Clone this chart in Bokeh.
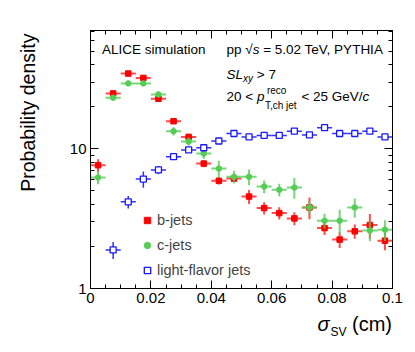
import math
from bokeh.plotting import figure
from bokeh.models import (FixedTicker, CustomJSTickFormatter, LinearAxis, LogAxis,
                          Label, Legend, LegendItem, ColumnDataSource)
from bokeh.core.enums import CoordinateUnits
from bokeh.embed import file_html
from bokeh.resources import INLINE

# ---------------- data ----------------
sigma_bins = [0.0025, 0.0075, 0.0125, 0.0175, 0.0225, 0.0275, 0.0325, 0.0375, 0.0425, 0.0475,
              0.0525, 0.0575, 0.0625, 0.0675, 0.0725, 0.0775, 0.0825, 0.0875, 0.0925, 0.0975]
bin_half_width = 0.0025

b_jets = [7.65, 25.0, 34.7, 32.3, 22.9, 15.8, 12.2, 7.85, 5.91, 6.13,
          4.56, 3.77, 3.47, 3.18, 3.81, 2.71, 2.24, 2.57, 2.85, 2.20]
b_err = [0.8, 0.8, 1.0, 1.0, 0.9, 0.7, 0.6, 0.45, 0.35, 0.3,
         0.52, 0.38, 0.35, 0.34, 0.68, 0.29, 0.29, 0.3, 0.57, 0.32]

c_jets = [6.24, 23.3, 29.5, 29.5, 24.6, 13.4, 11.3, 9.26, 7.23, 6.31,
          6.31, 5.38, 5.10, 5.29, 3.81, 3.06, 3.06, 3.81, 2.60, 2.64]
c_err = [0.65, 1.0, 1.0, 1.0, 1.1, 0.9, 0.77, 0.8, 1.0, 0.66,
         0.82, 0.56, 0.53, 0.9, 0.4, 0.37, 0.6, 0.6, 0.42, 0.45]

lf_bins = sigma_bins[1:]
lf_jets = [1.89, 4.18, 6.08, 7.08, 8.81, 9.84, 10.2, 11.4, 12.9, 12.2,
           12.5, 12.5, 13.4, 12.6, 14.2, 12.9, 12.9, 13.4, 12.2]
lf_err = [0.26, 0.43, 0.8, 0.48, 0.45, 0.5, 0.5, 0.55, 0.6, 0.6,
          0.6, 0.6, 0.65, 0.6, 0.7, 0.6, 0.6, 0.65, 0.6]

x_major = [0, 0.02, 0.04, 0.06, 0.08, 0.1]
x_minor = [0.005 * i for i in range(21)]
y_major = [1, 10]
y_minor = [2, 3, 4, 5, 6, 7, 8, 9, 20, 30, 40, 50, 60, 70]

series_names = ["b-jets", "c-jets", "light-flavor jets"]

# ---------------- figure ----------------
X0, X1 = 0.0, 0.1
Y0, Y1 = 1.0, 70.6
W, H = 408, 344
ML, MR, MT, MB = 90, 16, 30, 56
FONT = "Liberation Sans"

p = figure(width=W, height=H, x_range=(X0, X1), y_range=(Y0, Y1), y_axis_type="log",
           output_backend="svg", toolbar_location=None,
           min_border_left=ML, min_border_right=MR, min_border_top=MT, min_border_bottom=MB)
p.xgrid.visible = False
p.ygrid.visible = False
p.outline_line_color = "black"
p.outline_line_width = 1
p.background_fill_color = "white"
p.border_fill_color = "white"

fmt = CustomJSTickFormatter(code="return String(tick);")
blank = CustomJSTickFormatter(code="return '';")
xt = FixedTicker(ticks=x_major, minor_ticks=x_minor)
yt = FixedTicker(ticks=y_major, minor_ticks=y_minor)


def style_axis(ax, show_labels):
    ax.major_tick_in = 8
    ax.major_tick_out = 0
    ax.minor_tick_in = 4
    ax.minor_tick_out = 0
    ax.axis_line_color = "black"
    ax.major_tick_line_color = "black"
    ax.minor_tick_line_color = "black"
    ax.axis_label = None
    ax.major_label_text_font = FONT
    ax.major_label_text_font_size = "15px"
    ax.major_label_text_color = "black"
    ax.major_label_standoff = 4 if show_labels else 0


p.xaxis.ticker = xt
p.xaxis.formatter = fmt
p.yaxis.ticker = yt
p.yaxis.formatter = fmt
style_axis(p.xaxis[0], True)
style_axis(p.yaxis[0], True)

top_ax = LinearAxis(ticker=xt, formatter=blank)
style_axis(top_ax, False)
p.add_layout(top_ax, "above")
right_ax = LogAxis(ticker=yt, formatter=blank)
style_axis(right_ax, False)
p.add_layout(right_ax, "right")

# ---------------- series ----------------
def add_series(xs, ys, errs, color, marker, size, fill, lw, bar_w, bar_alpha):
    src = ColumnDataSource(dict(
        x=xs, y=ys,
        xl=[x - bin_half_width for x in xs], xh=[x + bin_half_width for x in xs],
        yl=[y - e for y, e in zip(ys, errs)], yh=[y + e for y, e in zip(ys, errs)]))
    p.segment(x0="xl", x1="xh", y0="y", y1="y", source=src, line_color=color,
              line_width=bar_w, line_alpha=bar_alpha)
    p.segment(x0="x", x1="x", y0="yl", y1="yh", source=src, line_color=color,
              line_width=bar_w, line_alpha=bar_alpha)
    return p.scatter(x="x", y="y", source=src, marker=marker, size=size,
                     fill_color=fill, line_color=color, line_width=lw)


r_b = add_series(sigma_bins, b_jets, b_err, "#ff0000", "square", 5.5, "#ff0000", 1, 2, 0.7)
r_c = add_series(sigma_bins, c_jets, c_err, "#55cc55", "circle", 5.5, "#55cc55", 1, 2, 0.8)
r_l = add_series(lf_bins, lf_jets, lf_err, "#1a1aff", "square", 6, "white", 1.3, 1.5, 0.9)

legend = Legend(items=[LegendItem(label=series_names[0], renderers=[r_b]),
                       LegendItem(label=series_names[1], renderers=[r_c]),
                       LegendItem(label=series_names[2], renderers=[r_l])],
                location=(49, 8), glyph_width=16, glyph_height=20, label_height=20,
                spacing=5, padding=5, margin=0, label_standoff=2,
                label_text_font=FONT, label_text_font_size="14.5px",
                border_line_color=None, background_fill_alpha=0)
p.add_layout(legend, "center")

# ---------------- texts ----------------
FL, FR, FT, FB = ML, W - MR, MT, H - MB   # frame in canvas px
HAS_CANVAS = "canvas" in CoordinateUnits
BASE_FIX = 0.25   # rendered baseline sits this many font-sizes low


def fx(px):
    return X0 + (px - FL) / (FR - FL) * (X1 - X0)


def fy(py):
    l0, l1 = math.log10(Y0), math.log10(Y1)
    return 10 ** (l0 + (FB - py) / (FB - FT) * (l1 - l0))


WID = {" ": 278, "(": 333, ")": 333, ",": 278, "-": 333, ".": 278, "/": 278, "<": 584,
       "=": 584, ">": 584, "A": 667, "C": 722, "E": 667, "G": 778, "H": 722, "I": 278,
       "L": 556, "P": 667, "S": 667, "T": 611, "V": 667, "Y": 667, "a": 556, "b": 556,
       "c": 500, "e": 556, "h": 556, "i": 222, "j": 222, "l": 222, "m": 833, "n": 556,
       "o": 556, "p": 556, "r": 333, "s": 500, "t": 278, "u": 556, "v": 500, "x": 500,
       "y": 500, "\u221a": 549, "\u03c3": 600}


def tw(s, size):
    return sum(WID.get(ch, 556) for ch in s) * size / 1000.0


def put(text, px, py, size, style="normal", align="left", angle=0.0, panel="center"):
    # strip leading spaces (SVG collapses them) and shift instead
    stripped = text.lstrip(" ")
    x0 = px + tw(text[:len(text) - len(stripped)], size)
    y0 = py
    if angle:
        x0 -= BASE_FIX * size
    else:
        y0 -= BASE_FIX * size
    kw = dict(text=stripped, text_font=FONT, text_font_size=f"{size}px",
              text_font_style=style, text_color="black", text_align=align,
              text_baseline="alphabetic", angle=angle)
    if panel != "center":
        # side panels are not clipped to the frame; place in canvas pixels
        if HAS_CANVAS:
            lab = Label(x=x0, y=y0, x_units="canvas", y_units="canvas", **kw)
        else:
            lab = Label(x=x0 - FL, y=FB - y0, x_units="screen", y_units="screen", **kw)
        p.add_layout(lab, panel)
    else:
        p.add_layout(Label(x=fx(x0), y=fy(y0), **kw))
    return px + tw(text, size)


def run(parts, px, py):
    for text, size, style, dy in parts:
        px = put(text, px, py + dy, size, style)
    return px


F = 13.5
put("ALICE simulation", 101.5, 52.5, F)
run([("pp ", F, "normal", 0), ("\u221a", F, "normal", 0), ("s", F, "italic", 0),
     (" = 5.02 TeV, PYTHIA", F, "normal", 0)], 226, 52.5)
run([("SL", F, "italic", 0), ("xy", 10, "italic", 3.5), (" > 7", F, "normal", 0)], 226, 77)

x = run([("20 < ", F, "normal", 0), ("p", F, "italic", 0)], 226, 99.5)
put("reco", x + 2.5, 92.5, 10)
x = put("T,ch jet", x + 0.5, 107, 10)
run([(" < 25 GeV/", F, "normal", 0), ("c", F, "italic", 0)], x, 99.5)

# axis titles (outside the frame, held by side panels with spare room)
put("Probability density", 32, 33, 19.5, align="right", angle=math.pi / 2, panel="left")
x = put("\u03c3", 317, 328, 20, "italic", panel="below")
put("SV", x + 1, 334, 12, panel="above")
put("(cm)", 351.5, 328, 20, panel="left")

open("out.html", "w").write(file_html(p, INLINE))
